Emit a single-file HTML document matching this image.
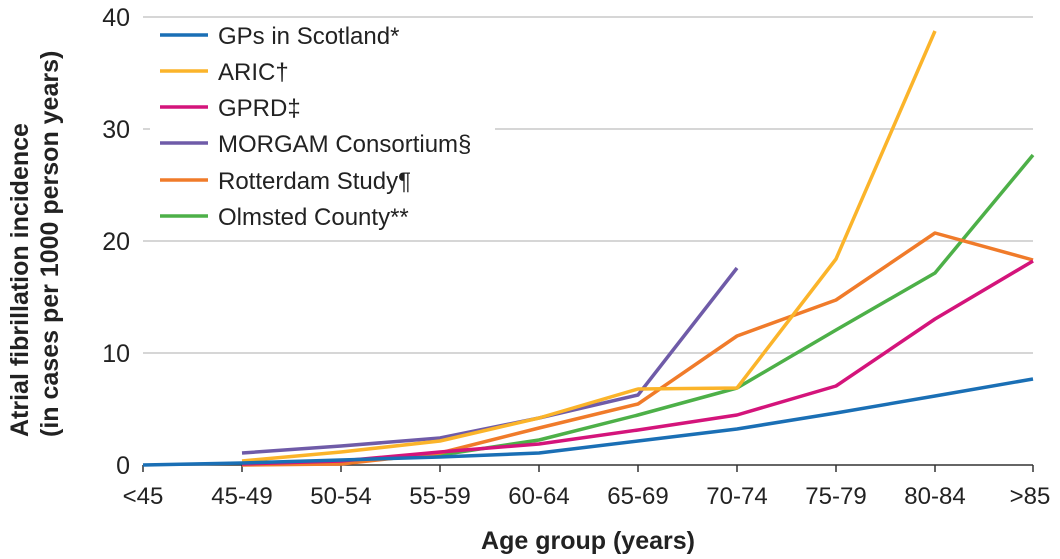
<!DOCTYPE html>
<html><head><meta charset="utf-8"><style>
html,body{margin:0;padding:0;background:#fff;}
svg{display:block;font-family:"Liberation Sans",sans-serif;}
</style></head><body>
<svg width="1060" height="559" viewBox="0 0 1060 559" xmlns="http://www.w3.org/2000/svg">
<g stroke="#c8c8c8" stroke-width="1.5">
<line x1="143" y1="17" x2="1033" y2="17"/>
<line x1="143" y1="129" x2="1033" y2="129"/>
<line x1="143" y1="241" x2="1033" y2="241"/>
<line x1="143" y1="353" x2="1033" y2="353"/>
</g>
<line x1="143" y1="465" x2="1033" y2="465" stroke="#333" stroke-width="1.5"/>
<g stroke="#333" stroke-width="1.5">
<line x1="143" y1="465" x2="143" y2="472"/><line x1="242" y1="465" x2="242" y2="472"/><line x1="341" y1="465" x2="341" y2="472"/><line x1="440" y1="465" x2="440" y2="472"/><line x1="539" y1="465" x2="539" y2="472"/><line x1="638" y1="465" x2="638" y2="472"/><line x1="737" y1="465" x2="737" y2="472"/><line x1="836" y1="465" x2="836" y2="472"/><line x1="935" y1="465" x2="935" y2="472"/><line x1="1033" y1="465" x2="1033" y2="472"/>
</g>
<g font-size="25" fill="#222" text-anchor="end">
<text x="130" y="26">40</text><text x="130" y="138">30</text><text x="130" y="250">20</text><text x="130" y="362">10</text><text x="130" y="474">0</text>
</g>
<g font-size="24" fill="#222" text-anchor="middle">
<text x="143" y="504">&lt;45</text><text x="242" y="504">45-49</text><text x="341" y="504">50-54</text><text x="440" y="504">55-59</text><text x="539" y="504">60-64</text><text x="638" y="504">65-69</text><text x="737" y="504">70-74</text><text x="836" y="504">75-79</text><text x="935" y="504">80-84</text><text x="1030" y="504">&gt;85</text>
</g>
<text x="588" y="549" font-size="25" font-weight="bold" fill="#222" text-anchor="middle">Age group (years)</text>
<g font-size="25" font-weight="bold" fill="#222" text-anchor="start">
<text transform="translate(28,437) rotate(-90)">Atrial fibrillation incidence</text>
<text transform="translate(58,437) rotate(-90)">(in cases per 1000 person years)</text>
</g>
<g fill="none" stroke-width="3.5" stroke-linejoin="round">
<polyline stroke="#6f5ba8" points="242,453 341,446 440,438 539,418 638,395 737,268"/>
<polyline stroke="#4db048" points="242,464 341,462 440,455 539,440 638,415 737,388 836,330 935,273 1033,155"/>
<polyline stroke="#f07b2a" points="242,465 341,464 440,453 539,428 638,404 737,336 836,300 935,233 1033,260"/>
<polyline stroke="#d4147b" points="242,464 341,461 440,452 539,444 638,430 737,415 836,386 935,319 1033,261"/>
<polyline stroke="#fbb42a" points="242,461 341,452 440,441 539,418 638,389 737,388 836,259 935,31"/>
<polyline stroke="#1a6fb5" points="143,465 242,463 341,460 440,457 539,453 638,441 737,429 836,413 935,396 1033,379"/>
</g>
<rect x="150" y="20" width="345" height="215" fill="#fff"/>
<g stroke-width="3.5">
<line x1="160" y1="35" x2="208" y2="35" stroke="#1a6fb5"/>
<line x1="160" y1="71" x2="208" y2="71" stroke="#fbb42a"/>
<line x1="160" y1="107" x2="208" y2="107" stroke="#d4147b"/>
<line x1="160" y1="143" x2="208" y2="143" stroke="#6f5ba8"/>
<line x1="160" y1="180" x2="208" y2="180" stroke="#f07b2a"/>
<line x1="160" y1="216" x2="208" y2="216" stroke="#4db048"/>
</g>
<g font-size="24" fill="#222">
<text x="218" y="44">GPs in Scotland*</text>
<text x="218" y="80">ARIC†</text>
<text x="218" y="116">GPRD‡</text>
<text x="218" y="152">MORGAM Consortium§</text>
<text x="218" y="189">Rotterdam Study¶</text>
<text x="218" y="225">Olmsted County**</text>
</g>
</svg>
</body></html>
